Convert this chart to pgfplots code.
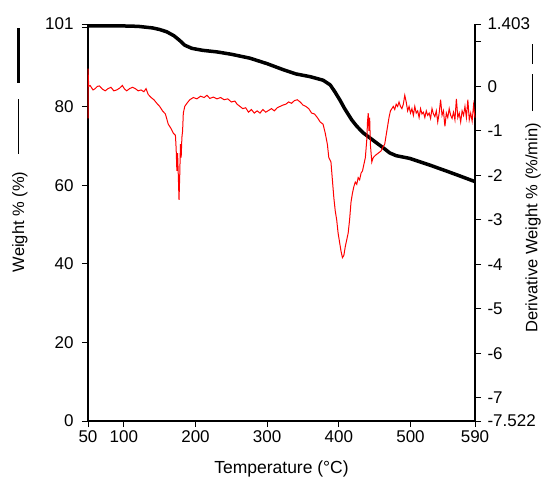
\documentclass[border=0pt]{standalone}
\usepackage{fontspec}
\setmainfont{Liberation Sans}
\usepackage{pgfplots}
\pgfplotsset{compat=1.18}

\pgfplotsset{
  tga/.style={
    scale only axis, width=387pt, height=397pt,
    xmin=50, xmax=590,
    clip=false,
    tick align=outside,
    major tick length=6pt,
    tick style={black, line width=0.9pt},
    axis line style={black, line width=1.2pt, -},
    tick label style={font=\fontsize{17}{20}\selectfont},
  },
}

\begin{document}
\begin{tikzpicture}
\begin{axis}[
  tga, name=main,
  ymin=0, ymax=101,
  axis x line*=bottom, axis y line*=left,
  xtick={50,100,200,300,400,500,590},
  xticklabels={50,100,200,300,400,500,590},
  ytick={0,20,40,60,80,100,101},
  yticklabels={0,20,40,60,80,,101},
  yticklabel style={xshift=-5pt},
  xlabel={Temperature (°C)},
  xlabel style={font=\fontsize{17.5}{20}\selectfont, at={(axis description cs:0.5,-0.121)}, anchor=center},
  ylabel={Weight \% (\%)\hspace{18pt}\rule[0.3em]{55pt}{0.8pt}\hspace{16pt}\rule[4pt]{55pt}{3.5pt}},
  ylabel style={font=\fontsize{16.5}{20}\selectfont, at={(axis description cs:-0.176,0.683)}, anchor=center},
]
% weight loss curve
\addplot[black, line width=3.5pt, line join=round] coordinates {
  (50,100.5)(100,100.5)(120,100.4)(140,100.0)(150,99.6)(160,99.0)
  (170,98.0)(178,96.8)(185,95.6)(195,94.8)(210,94.3)(230,93.9)
  (250,93.3)(276,92.3)(300,90.9)(322,89.4)(340,88.3)(360,87.6)
  (378,86.7)(388,85.5)(395,83.6)(402,81.5)(408,79.5)(418,76.6)
  (425,75.0)(434,73.3)(445,71.8)(453,70.7)(462,69.5)(471,68.2)
  (480,67.5)(499,66.8)(527,65.1)(550,63.6)(565,62.6)(590,60.9)
};
\end{axis}

\begin{axis}[
  tga,
  ymin=-7.522, ymax=1.403,
  axis x line=none, axis y line*=right,
  ytick={-7.522,-7,-6,-5,-4,-3,-2,-1,0,1,1.403},
  yticklabels={-7.522,-7,-6,-5,-4,-3,-2,-1,0,,1.403},
  yticklabel style={xshift=3pt},
  ylabel={Derivative Weight \% (\%/min)\hspace{12pt}\rule[0.3em]{37pt}{0.8pt}\hspace{10pt}\rule[0.3em]{20pt}{0.8pt}},
  ylabel style={font=\fontsize{16.5}{20}\selectfont, at={(axis description cs:1.15,0.586)}, anchor=center},
]
% derivative curve
\addplot[red, line width=1pt] coordinates {
  (50,-0.72)(50,0.4)(51,0.0)(53,0.02)(57,-0.08)(60,-0.05)(63,0.0)(66,0.01)
  (70,-0.06)(74,-0.1)(78,-0.05)(82,-0.02)(86,-0.1)(90,-0.08)(94,-0.04)
  (98,0.02)(101,-0.06)(104,-0.1)(108,-0.05)(112,-0.02)(116,-0.05)(120,-0.1)
  (124,-0.08)(128,-0.12)(131,-0.05)(134,-0.18)(138,-0.25)(142,-0.3)
  (146,-0.38)(150,-0.45)(154,-0.55)(158,-0.62)(162,-0.85)(166,-0.95)
  (169,-1.05)(172,-1.1)(173,-1.4)(174,-1.9)(175,-1.5)(176,-2.0)(177,-2.55)
  (178,-2.0)(179,-1.3)(180,-1.6)(181,-1.15)(182,-1.0)(183,-0.6)(185,-0.45)
  (188,-0.38)(192,-0.3)(197,-0.25)(202,-0.28)(207,-0.22)(212,-0.25)
  (216,-0.2)(220,-0.27)(225,-0.24)(230,-0.28)(235,-0.25)(240,-0.3)
  (245,-0.28)(250,-0.35)(255,-0.33)(258,-0.4)(262,-0.45)(266,-0.5)
  (270,-0.48)(274,-0.58)(278,-0.52)(282,-0.6)(286,-0.55)(290,-0.6)
  (294,-0.52)(298,-0.58)(302,-0.54)(306,-0.5)(310,-0.55)(314,-0.48)
  (318,-0.45)(322,-0.42)(326,-0.4)(330,-0.35)(334,-0.38)(338,-0.32)
  (342,-0.3)(346,-0.35)(350,-0.42)(354,-0.45)(358,-0.5)(362,-0.6)
  (366,-0.62)(370,-0.7)(374,-0.8)(378,-0.85)(381,-1.05)(384,-1.3)
  (386,-1.6)(389,-1.7)(391,-2.1)(393,-2.5)(395,-2.8)(397,-3.0)(399,-3.3)
  (401,-3.5)(403,-3.7)(405,-3.85)(407,-3.8)(409,-3.6)(411,-3.45)(413,-3.3)
  (415,-3.0)(417,-2.6)(419,-2.4)(421,-2.25)(423,-2.15)(425,-2.2)(427,-2.05)
  (429,-2.1)(431,-1.95)(433,-1.9)(435,-1.75)(437,-1.6)(439,-1.2)(440,-0.8)
  (441,-0.6)(442,-1.0)(443,-0.7)(444,-1.3)(445,-1.5)(446,-1.7)(448,-1.6)
  (451,-1.55)(455,-1.5)(459,-1.45)(462,-1.35)(464,-1.3)(466,-1.1)(468,-0.9)
  (470,-0.7)(472,-0.55)(474,-0.5)(476,-0.45)(478,-0.52)(480,-0.4)(482,-0.45)
  (484,-0.35)(486,-0.45)(488,-0.5)(490,-0.4)(492,-0.2)(494,-0.35)(496,-0.55)
  (498,-0.45)(500,-0.6)(502,-0.5)(504,-0.65)(506,-0.45)(508,-0.6)(510,-0.55)
  (512,-0.7)(514,-0.5)(516,-0.62)(518,-0.58)(520,-0.7)(522,-0.55)(524,-0.65)
  (526,-0.6)(528,-0.72)(530,-0.5)(532,-0.62)(534,-0.68)(536,-0.55)(538,-0.8)
  (540,-0.6)(542,-0.3)(544,-0.65)(546,-0.55)(548,-0.9)(550,-0.6)(552,-0.7)
  (554,-0.5)(556,-0.65)(558,-0.72)(560,-0.58)(562,-0.75)(564,-0.28)(566,-0.7)
  (568,-0.6)(570,-0.8)(572,-0.55)(574,-0.65)(576,-0.45)(578,-0.7)(580,-0.3)
  (582,-0.75)(584,-0.6)(586,-0.78)(588,-0.42)(590,-0.7)
};
\end{axis}

\pgfresetboundingbox
\path ([xshift=-88pt,yshift=-57pt]main.south west) rectangle ([xshift=69pt,yshift=24pt]main.north east);
\end{tikzpicture}
\end{document}
